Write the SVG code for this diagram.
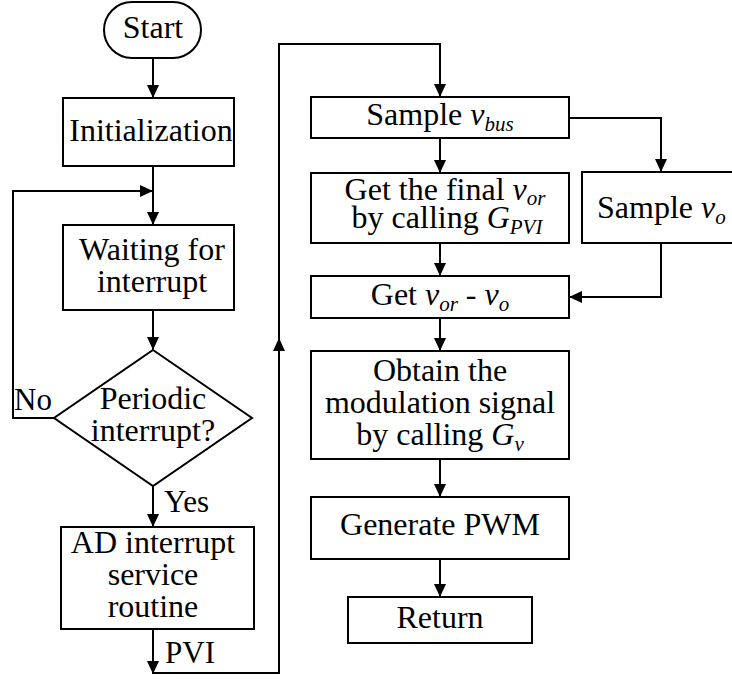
<svg xmlns="http://www.w3.org/2000/svg" width="732" height="679" viewBox="0 0 732 679" font-family="'Liberation Serif', 'DejaVu Serif', serif">
  <style>
    .box { fill: #ffffff; stroke: #000000; stroke-width: 2; }
    .arrow { fill: none; stroke: #000000; stroke-width: 2; marker-end: url(#head); }
    text { font-family: 'Liberation Serif', 'DejaVu Serif', serif; font-size: 32px; fill: #000000; }
    .c { text-anchor: middle; }
    .i { font-style: italic; }
    .sub { font-style: italic; font-size: 21px; }
    .lbl { font-size: 31px; }
  </style>
  <defs>
    <marker id="head" markerUnits="userSpaceOnUse" markerWidth="13" markerHeight="12" refX="13" refY="6" orient="auto">
      <path d="M0,0 L13,6 L0,12 Z" fill="#000000"/>
    </marker>
  </defs>

  <!-- connectors -->
  <g id="connectors">
    <path class="arrow" d="M153,58 V98"/>
    <path class="arrow" d="M153,166 V225"/>
    <path class="arrow" d="M153,310 V350"/>
    <path class="arrow" d="M54,418 H13 V191 H153"/>
    <path class="arrow" d="M153,486 V527"/>
    <path class="arrow" d="M153,629 V674"/>
    <path class="arrow" d="M153,673 H279 V338"/>
    <path class="arrow" d="M279,340 V44 H440 V97"/>
    <path class="arrow" d="M440,138 V173"/>
    <path class="arrow" d="M569,118 H661 V172"/>
    <path class="arrow" d="M440,243 V276"/>
    <path class="arrow" d="M661,243 V297 H569"/>
    <path class="arrow" d="M440,318 V351"/>
    <path class="arrow" d="M440,459 V497"/>
    <path class="arrow" d="M440,559 V597"/>
    <text class="lbl" x="14" y="410">No</text>
    <text class="lbl" x="164" y="512">Yes</text>
    <text class="lbl" x="165" y="663">PVI</text>
  </g>

  <!-- left column -->
  <g id="start">
    <rect class="box" x="104" y="2" width="97" height="56" rx="28" ry="28"/>
    <text class="c" x="153" y="38">Start</text>
  </g>
  <g id="init">
    <rect class="box" x="63" y="98" width="171" height="68"/>
    <text class="c" x="151" y="141">Initialization</text>
  </g>
  <g id="wait">
    <rect class="box" x="63" y="225" width="171" height="85"/>
    <text class="c" x="152" y="260">Waiting for</text>
    <text class="c" x="152" y="292">interrupt</text>
  </g>
  <g id="decision">
    <polygon class="box" points="153,350 252,418 153,486 54,418"/>
    <text class="c" x="153" y="409">Periodic</text>
    <text class="c" x="153" y="441">interrupt?</text>
  </g>
  <g id="isr">
    <rect class="box" x="61" y="527" width="193" height="102"/>
    <text class="c" x="153" y="553">AD interrupt</text>
    <text class="c" x="153" y="585">service</text>
    <text class="c" x="153" y="617">routine</text>
  </g>

  <!-- right column -->
  <g id="sample-bus">
    <rect class="box" x="311" y="97" width="258" height="41"/>
    <text class="c" x="440" y="125">Sample <tspan class="i">v</tspan><tspan class="sub" dy="6">bus</tspan></text>
  </g>
  <g id="final-vor">
    <rect class="box" x="311" y="173" width="258" height="70"/>
    <text class="c" x="445" y="200">Get the final <tspan class="i">v</tspan><tspan class="sub" dy="5">or</tspan></text>
    <text class="c" x="447" y="228">by calling <tspan class="i">G</tspan><tspan class="sub" dy="6">PVI</tspan></text>
  </g>
  <g id="sample-vo">
    <rect class="box" x="582" y="172" width="160" height="71"/>
    <text x="597" y="218">Sample <tspan class="i">v</tspan><tspan class="sub" dy="6">o</tspan></text>
  </g>
  <g id="error">
    <rect class="box" x="311" y="276" width="258" height="42"/>
    <text class="c" x="440" y="305">Get <tspan class="i">v</tspan><tspan class="sub" dy="6">or</tspan><tspan dy="-6"> - </tspan><tspan class="i">v</tspan><tspan class="sub" dy="6">o</tspan></text>
  </g>
  <g id="modulation">
    <rect class="box" x="311" y="351" width="258" height="108"/>
    <text class="c" x="440" y="381">Obtain the</text>
    <text class="c" x="440" y="413">modulation signal</text>
    <text class="c" x="440" y="445">by calling <tspan class="i">G</tspan><tspan class="sub" dy="6">v</tspan></text>
  </g>
  <g id="pwm">
    <rect class="box" x="311" y="497" width="258" height="62"/>
    <text class="c" x="440" y="535">Generate PWM</text>
  </g>
  <g id="return">
    <rect class="box" x="348" y="597" width="184" height="46"/>
    <text class="c" x="440" y="628">Return</text>
  </g>
</svg>
